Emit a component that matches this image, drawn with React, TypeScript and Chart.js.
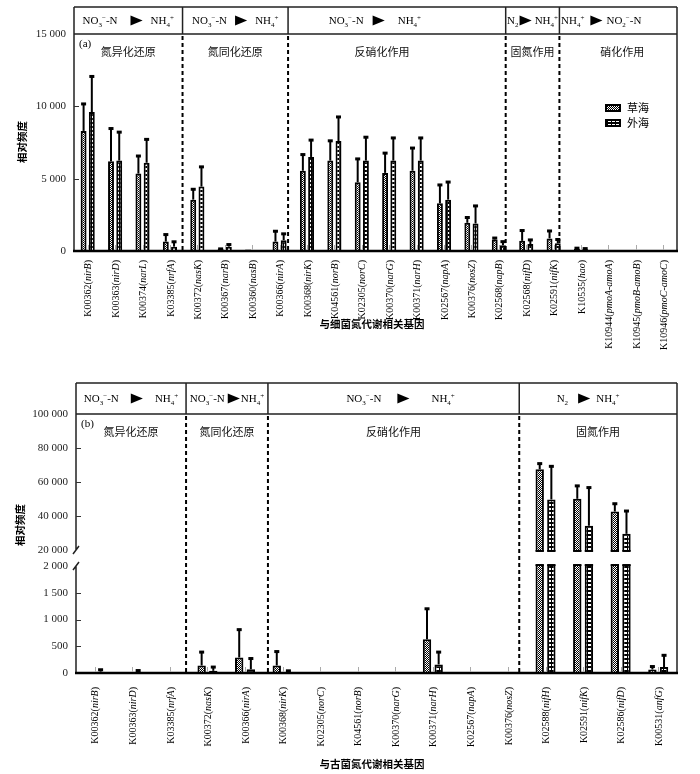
import React, { useEffect, useRef } from 'react';
import { Chart, registerables, LinearScale } from 'chart.js';

Chart.register(...registerables);

// ---------------- data ----------------
const seriesNames = ['草海', '外海'];

const topGenes = ['K00362(nirB)', 'K00363(nirD)', 'K00374(narL)', 'K03385(nrfA)', 'K00372(nasK)', 'K00367(narB)', 'K00360(nasB)', 'K00366(nirA)', 'K00368(nirK)', 'K04561(norB)', 'K02305(norC)', 'K00370(narG)', 'K00371(narH)', 'K02567(napA)', 'K00376(nosZ)', 'K02568(napB)', 'K02568(nifD)', 'K02591(nifK)', 'K10535(hao)', 'K10944(pmoA-amoA)', 'K10945(pmoB-amoB)', 'K10946(pmoC-amoC)'];
const topCaohai = [8300, 6200, 5350, 650, 3550, 150, 100, 650, 5550, 6250, 4750, 5400, 5550, 3300, 1950, 800, 700, 870, 150, 0, 0, 0];
const topCaohaiSd = [1900, 2300, 1250, 520, 750, 30, 0, 750, 1150, 1400, 1650, 1400, 1600, 1300, 400, 130, 750, 550, 80, 0, 0, 0];
const topWaihai = [9600, 6250, 6100, 300, 4450, 300, 20, 750, 6500, 7600, 6250, 6250, 6250, 3550, 1900, 400, 480, 530, 120, 0, 0, 30];
const topWaihaiSd = [2500, 2000, 1650, 370, 1400, 180, 0, 470, 1200, 1700, 1650, 1600, 1600, 1250, 1250, 280, 320, 300, 80, 0, 0, 0];
const topYTicks = [0, 5000, 10000, 15000];
const topXTitle = '与细菌氮代谢相关基因';

const botGenes = ['K00362(nirB)', 'K00363(nirD)', 'K03385(nrfA)', 'K00372(nasK)', 'K00366(nirA)', 'K00368(nirK)', 'K02305(norC)', 'K04561(norB)', 'K00370(narG)', 'K00371(narH)', 'K02567(napA)', 'K00376(nosZ)', 'K02588(nifH)', 'K02591(nifK)', 'K02586(nifD)', 'K00531(anfG)'];
const botCaohai = [15, 10, 5, 140, 290, 140, 15, 15, 20, 630, 0, 15, 67500, 50100, 42600, 65];
const botCaohaiSd = [0, 0, 0, 260, 530, 270, 0, 0, 0, 580, 0, 0, 3600, 7900, 4900, 65];
const botWaihai = [25, 15, 5, 40, 70, 10, 0, 5, 0, 160, 0, 5, 49700, 34250, 29500, 110];
const botWaihaiSd = [45, 40, 0, 80, 210, 40, 0, 0, 0, 240, 0, 0, 19800, 22750, 13700, 230];
const botYTicks = [0, 500, 1000, 1500, 2000, 20000, 40000, 60000, 80000, 100000];
const botXTitle = '与古菌氮代谢相关基因';

const yTitle = '相对频度';
const topGroups = ['氮异化还原', '氮同化还原', '反硝化作用', '固氮作用', '硝化作用'];
const botGroups = ['氮异化还原', '氮同化还原', '反硝化作用', '固氮作用'];

// ---------------- broken axis ----------------
const LOW_MAX = 2000;
const HIGH_MIN = 20000;
const LOW_FRAC = 0.413;
const HIGH_FRAC = 0.475;

class BrokenScale extends LinearScale {
  static id = 'broken';
  static defaults = LinearScale.defaults;
  getPixelForValue(value: any) {
    if (value === null || value === undefined || isNaN(value)) return NaN;
    const max = 100000;
    let f: number;
    if (value <= LOW_MAX) f = (value / LOW_MAX) * LOW_FRAC;
    else if (value >= HIGH_MIN) f = HIGH_FRAC + ((value - HIGH_MIN) / (max - HIGH_MIN)) * (1 - HIGH_FRAC);
    else f = LOW_FRAC + ((value - LOW_MAX) / (HIGH_MIN - LOW_MAX)) * (HIGH_FRAC - LOW_FRAC);
    return this.getPixelForDecimal(f);
  }
  getValueForPixel(pixel: number) {
    const f = this.getDecimalForPixel(pixel);
    if (f <= LOW_FRAC) return (f / LOW_FRAC) * LOW_MAX;
    if (f >= HIGH_FRAC) return HIGH_MIN + ((f - HIGH_FRAC) / (1 - HIGH_FRAC)) * (100000 - HIGH_MIN);
    return LOW_MAX + ((f - LOW_FRAC) / (HIGH_FRAC - LOW_FRAC)) * (HIGH_MIN - LOW_MAX);
  }
}
Chart.register(BrokenScale as any);

// ---------------- rich text helpers ----------------
type Seg = [string, string, number?];
const SERIF = '"Liberation Serif", "DejaVu Serif", serif';
const CJK = '"Noto Sans CJK SC", sans-serif';

const NO3: Seg[] = [['NO', 'n'], ['3', 'b'], ['−', 'p'], ['-N', 'n']];
const NO2: Seg[] = [['NO', 'n'], ['2', 'b'], ['−', 'p'], ['-N', 'n']];
const NH4: Seg[] = [['NH', 'n'], ['4', 'b'], ['+', 'p']];
const N2: Seg[] = [['N', 'n'], ['2', 'b']];
const g = (w: number): Seg => ['', 'g', w];
const T: Seg = ['', 't'];

function segFont(kind: string, fs: number) {
  return kind === 'b' || kind === 'p' ? `${Math.round(fs * 0.68)}px ${SERIF}` : `${fs}px ${SERIF}`;
}
function segW(ctx: CanvasRenderingContext2D, s: Seg, fs: number) {
  if (s[1] === 'g') return s[2] || 0;
  if (s[1] === 't') return fs * 1.1;
  ctx.font = segFont(s[1], fs);
  return ctx.measureText(s[0]).width;
}
function drawRich(ctx: CanvasRenderingContext2D, segs: Seg[], cx: number, cy: number, fs: number) {
  const total = segs.reduce((a, s) => a + segW(ctx, s, fs), 0);
  let x = cx - total / 2;
  ctx.textBaseline = 'alphabetic';
  ctx.textAlign = 'left';
  ctx.fillStyle = '#000';
  const base = cy + fs * 0.35;
  for (const s of segs) {
    const w = segW(ctx, s, fs);
    if (s[1] === 't') {
      ctx.beginPath();
      ctx.moveTo(x, cy - fs * 0.45);
      ctx.lineTo(x + w, cy);
      ctx.lineTo(x, cy + fs * 0.45);
      ctx.closePath();
      ctx.fill();
    } else if (s[1] !== 'g') {
      ctx.font = segFont(s[1], fs);
      const yy = s[1] === 'b' ? base + fs * 0.22 : s[1] === 'p' ? base - fs * 0.42 : base;
      ctx.fillText(s[0], x, yy);
    }
    x += w;
  }
}

function makePattern(ctx: CanvasRenderingContext2D, kind: string) {
  const c = document.createElement('canvas');
  const cx = c.getContext('2d')!;
  if (kind === 'a') {
    c.width = 2; c.height = 2;
    cx.fillStyle = '#000'; cx.fillRect(0, 0, 2, 2);
    cx.fillStyle = '#fff'; cx.fillRect(0, 0, 1, 1); cx.fillRect(1, 1, 1, 1);
  } else {
    c.width = 4; c.height = 4;
    cx.fillStyle = '#000'; cx.fillRect(0, 0, 4, 4);
    cx.fillStyle = '#fff'; cx.fillRect(0, 0, 3, 2);
  }
  return ctx.createPattern(c, 'repeat')!;
}

interface Cell { segs: Seg[]; dx: number; group: string; gdx: number; }
interface PanelSpec {
  id: string;
  letter: string;
  headerTop: number;
  groupY: number;
  cells: Cell[];
  dividers: number[];
  labels: string[];
  errs: number[][];
  labelGap: number;
  xTitle: string;
  xTitleX: number;
  xTitleY: number;
  yTitleX: number;
  yTitleY: number;
  broken: boolean;
  legend: { x: number; y: number } | null;
}

function fmt(v: number) {
  if (v >= 1000) {
    const th = Math.floor(v / 1000);
    const r = String(v % 1000).padStart(3, '0');
    return `${th} ${r}`;
  }
  return String(v);
}

const LABEL_FS = 10;

function makePlugin(spec: PanelSpec) {
  return {
    id: 'panel_' + spec.id,
    afterDatasetsDraw(chart: any) {
      const { ctx, chartArea: ca, scales } = chart;
      const y = scales.y;
      ctx.save();
      if (spec.broken) {
        const yLow = y.getPixelForValue(LOW_MAX);
        const yHigh = y.getPixelForValue(HIGH_MIN);
        ctx.fillStyle = '#fff';
        ctx.fillRect(ca.left + 1, yHigh + 1, ca.right - ca.left - 2, yLow - yHigh - 2);
        ctx.fillStyle = '#000';
        chart.data.datasets.forEach((ds: any, di: number) => {
          const meta = chart.getDatasetMeta(di);
          meta.data.forEach((el: any, i: number) => {
            if (ds.data[i] > LOW_MAX) {
              const { x, width } = el.getProps(['x', 'width'], true);
              ctx.fillRect(x - width / 2, yLow - 2, width, 2);
              ctx.fillRect(x - width / 2, yHigh, width, 2);
            }
          });
        });
      }
      // error bars
      ctx.strokeStyle = '#000';
      ctx.fillStyle = '#000';
      chart.data.datasets.forEach((ds: any, di: number) => {
        const meta = chart.getDatasetMeta(di);
        const errs = spec.errs[di];
        meta.data.forEach((el: any, i: number) => {
          const sd = errs[i];
          if (!sd) return;
          const v = ds.data[i];
          const { x, y: yb } = el.getProps(['x', 'y'], true);
          const yt = y.getPixelForValue(v + sd);
          ctx.lineWidth = 2;
          ctx.beginPath();
          ctx.moveTo(x, yb);
          ctx.lineTo(x, yt);
          ctx.stroke();
          ctx.fillRect(x - 2.5, yt - 1, 5, 3);
        });
      });
      ctx.restore();
    },
    afterDraw(chart: any) {
      const { ctx, chartArea: ca, scales } = chart;
      const xs = scales.x;
      const y = scales.y;
      ctx.save();
      const divPx = spec.dividers.map((d) => xs.getPixelForValue(d));
      const bounds = [ca.left, ...divPx, ca.right];

      // frame
      ctx.strokeStyle = '#222';
      ctx.lineWidth = 1.5;
      ctx.beginPath();
      ctx.moveTo(ca.left, spec.headerTop);
      ctx.lineTo(ca.right, spec.headerTop);
      ctx.moveTo(ca.right, spec.headerTop);
      ctx.lineTo(ca.right, ca.bottom);
      ctx.moveTo(ca.left, ca.top);
      ctx.lineTo(ca.right, ca.top);
      if (spec.broken) {
        const yLow = y.getPixelForValue(LOW_MAX);
        const yHigh = y.getPixelForValue(HIGH_MIN);
        ctx.moveTo(ca.left, spec.headerTop);
        ctx.lineTo(ca.left, yHigh);
        ctx.moveTo(ca.left, yLow);
        ctx.lineTo(ca.left, ca.bottom);
        // break slashes
        ctx.moveTo(ca.left - 3, yHigh + 4);
        ctx.lineTo(ca.left + 3, yHigh - 4);
        ctx.moveTo(ca.left - 3, yLow + 4);
        ctx.lineTo(ca.left + 3, yLow - 4);
      } else {
        ctx.moveTo(ca.left, spec.headerTop);
        ctx.lineTo(ca.left, ca.bottom);
      }
      // header separators
      divPx.forEach((px) => {
        ctx.moveTo(px, spec.headerTop);
        ctx.lineTo(px, ca.top);
      });
      ctx.stroke();

      // x axis line (thick)
      ctx.lineWidth = 2.5;
      ctx.strokeStyle = '#000';
      ctx.beginPath();
      ctx.moveTo(ca.left - 1, ca.bottom);
      ctx.lineTo(ca.right + 1, ca.bottom);
      ctx.stroke();

      // inward y ticks
      ctx.lineWidth = 1;
      ctx.strokeStyle = '#333';
      ctx.beginPath();
      y.ticks.forEach((t: any) => {
        const v = t.value;
        if (v === 0 || v === y.max) return;
        if (spec.broken && (v === LOW_MAX || v === HIGH_MIN)) return;
        const py = Math.round(y.getPixelForValue(v)) + 0.5;
        ctx.moveTo(ca.left, py);
        ctx.lineTo(ca.left + 5, py);
      });
      ctx.stroke();

      // category ticks (light)
      ctx.strokeStyle = '#aaa';
      ctx.lineWidth = 1;
      ctx.beginPath();
      spec.labels.forEach((_, i) => {
        const px = Math.round(xs.getPixelForValue(i)) + 0.5;
        ctx.moveTo(px, ca.bottom - 1);
        ctx.lineTo(px, ca.bottom - 6);
      });
      ctx.stroke();

      // dashed dividers
      ctx.strokeStyle = '#000';
      ctx.lineWidth = 2;
      ctx.setLineDash([4, 3]);
      ctx.beginPath();
      divPx.forEach((px) => {
        ctx.moveTo(px, ca.top + 2);
        ctx.lineTo(px, ca.bottom - 1);
      });
      ctx.stroke();
      ctx.setLineDash([]);

      // header texts and group labels
      const hy = (spec.headerTop + ca.top) / 2;
      spec.cells.forEach((c, k) => {
        const cx = (bounds[k] + bounds[k + 1]) / 2;
        drawRich(ctx, c.segs, cx + c.dx, hy, 11);
        ctx.font = `11px ${CJK}`;
        ctx.textAlign = 'center';
        ctx.textBaseline = 'middle';
        ctx.fillStyle = '#111';
        ctx.fillText(c.group, cx + c.gdx, spec.groupY);
      });
      // panel letter
      ctx.font = `11px ${SERIF}`;
      ctx.textAlign = 'left';
      ctx.textBaseline = 'middle';
      ctx.fillStyle = '#000';
      ctx.fillText(spec.letter, ca.left + 5, ca.top + 10);

      // x labels (code + italic gene)
      spec.labels.forEach((lab, i) => {
        const px = xs.getPixelForValue(i);
        const m = lab.match(/^(.*?\()(.*)(\))$/);
        const parts: [string, boolean][] = m ? [[m[1], false], [m[2], true], [m[3], false]] : [[lab, false]];
        const widths = parts.map(([t, it]) => {
          ctx.font = `${it ? 'italic ' : ''}${LABEL_FS}px ${SERIF}`;
          return ctx.measureText(t).width;
        });
        const total = widths.reduce((a, b) => a + b, 0);
        ctx.save();
        ctx.translate(px + 1, ca.bottom + spec.labelGap);
        ctx.rotate(-Math.PI / 2);
        ctx.textAlign = 'left';
        ctx.textBaseline = 'middle';
        ctx.fillStyle = '#000';
        let x = -total;
        parts.forEach(([t, it], k) => {
          ctx.font = `${it ? 'italic ' : ''}${LABEL_FS}px ${SERIF}`;
          ctx.fillText(t, x, 0);
          x += widths[k];
        });
        ctx.restore();
      });

      // axis titles
      ctx.font = `bold 10.5px ${CJK}`;
      ctx.textAlign = 'center';
      ctx.textBaseline = 'middle';
      ctx.fillStyle = '#000';
      ctx.fillText(spec.xTitle, spec.xTitleX, spec.xTitleY);
      ctx.save();
      ctx.translate(spec.yTitleX, spec.yTitleY);
      ctx.rotate(-Math.PI / 2);
      ctx.font = `bold 10.5px ${CJK}`;
      ctx.fillText(yTitle, 0, 0);
      ctx.restore();

      // legend
      if (spec.legend) {
        chart.data.datasets.forEach((ds: any, di: number) => {
          const lx = spec.legend!.x;
          const ly = spec.legend!.y + di * 15;
          ctx.fillStyle = '#000';
          ctx.fillRect(lx, ly, 16, 8);
          ctx.fillStyle = ds.backgroundColor;
          ctx.fillRect(lx + 2, ly + 2, 12, 4);
          ctx.fillStyle = '#000';
          ctx.font = `11px ${CJK}`;
          ctx.textAlign = 'left';
          ctx.textBaseline = 'middle';
          ctx.fillText(ds.label, lx + 22, ly + 4);
        });
      }
      ctx.restore();
    },
  };
}

function buildChart(
  canvas: HTMLCanvasElement,
  o: { labels: string[]; c: number[]; w: number[]; max: number; ticks: number[]; broken: boolean; padLeft: number; padTop: number; xH: number; spec: PanelSpec; barPct: number; catPct: number }
) {
  const ctx = canvas.getContext('2d')!;
  const patA = makePattern(ctx, 'a');
  const patB = makePattern(ctx, 'b');
  return new Chart(canvas, {
    type: 'bar',
    data: {
      labels: o.labels,
      datasets: [
        { label: seriesNames[0], data: o.c, backgroundColor: patA as any, borderColor: '#000', borderWidth: 2, borderSkipped: 'start', categoryPercentage: o.catPct, barPercentage: o.barPct },
        { label: seriesNames[1], data: o.w, backgroundColor: patB as any, borderColor: '#000', borderWidth: 2, borderSkipped: 'start', categoryPercentage: o.catPct, barPercentage: o.barPct },
      ],
    },
    options: {
      responsive: false,
      animation: false,
      devicePixelRatio: 1,
      layout: { padding: { left: o.padLeft, top: o.padTop, right: 23, bottom: 0 } },
      plugins: { legend: { display: false }, tooltip: { enabled: false } },
      scales: {
        x: {
          type: 'category',
          grid: { display: false, drawTicks: false },
          border: { display: false },
          ticks: { display: false },
          afterFit: (s: any) => { s.height = o.xH; },
        },
        y: {
          type: (o.broken ? 'broken' : 'linear') as any,
          min: 0,
          max: o.max,
          grid: { display: false, drawTicks: false },
          border: { display: false },
          ticks: {
            autoSkip: false,
            padding: 8,
            color: '#222',
            font: { family: SERIF, size: 11 },
            callback: (v: any) => fmt(Number(v)),
          },
          afterBuildTicks: (s: any) => { s.ticks = o.ticks.map((v) => ({ value: v })); },
          afterFit: (s: any) => { s.width = 66; },
        } as any,
      },
    },
    plugins: [makePlugin(o.spec) as any],
  });
}

export default function App() {
  const topRef = useRef<HTMLCanvasElement>(null);
  const botRef = useRef<HTMLCanvasElement>(null);

  useEffect(() => {
    const topSpec: PanelSpec = {
      id: 'a',
      letter: '(a)',
      headerTop: 7,
      groupY: 52,
      cells: [
        { segs: [...NO3, g(13), T, g(8), ...NH4], dx: 0, group: topGroups[0], gdx: 0 },
        { segs: [...NO3, g(8), T, g(8), ...NH4], dx: 0, group: topGroups[1], gdx: 0 },
        { segs: [...NO3, g(9), T, g(13), ...NH4], dx: -22, group: topGroups[2], gdx: -15 },
        { segs: [...N2, g(1), T, g(3), ...NH4], dx: 0, group: topGroups[3], gdx: 0 },
        { segs: [...NH4, g(6), T, g(4), ...NO2], dx: -17, group: topGroups[4], gdx: 4 },
      ],
      dividers: [3.46, 7.31, 15.25, 17.21],
      labels: topGenes,
      errs: [topCaohaiSd, topWaihaiSd],
      labelGap: 9,
      xTitle: topXTitle,
      xTitleX: 372,
      xTitleY: 324,
      yTitleX: 22,
      yTitleY: 142,
      broken: false,
      legend: { x: 605, y: 104 },
    };
    const botSpec: PanelSpec = {
      id: 'b',
      letter: '(b)',
      headerTop: 11,
      groupY: 60,
      cells: [
        { segs: [...NO3, g(12), T, g(12), ...NH4], dx: 0, group: botGroups[0], gdx: 0 },
        { segs: [...NO3, g(3), T, g(1), ...NH4], dx: 0, group: botGroups[1], gdx: 0 },
        { segs: [...NO3, g(16), T, g(22), ...NH4], dx: 7, group: botGroups[2], gdx: 0 },
        { segs: [...N2, g(10), T, g(6), ...NH4], dx: -10, group: botGroups[3], gdx: 0 },
      ],
      dividers: [2.43, 4.61, 11.3],
      labels: botGenes,
      errs: [botCaohaiSd, botWaihaiSd],
      labelGap: 14,
      xTitle: botXTitle,
      xTitleX: 372,
      xTitleY: 392,
      yTitleX: 20,
      yTitleY: 153,
      broken: true,
      legend: null,
    };
    const c1 = buildChart(topRef.current!, {
      labels: topGenes, c: topCaohai, w: topWaihai, max: 15000, ticks: topYTicks, broken: false,
      padLeft: 8, padTop: 34, xH: 121, spec: topSpec, catPct: 0.6, barPct: 0.72,
    });
    const c2 = buildChart(botRef.current!, {
      labels: botGenes, c: botCaohai, w: botWaihai, max: 100000, ticks: botYTicks, broken: true,
      padLeft: 10, padTop: 42, xH: 101, spec: botSpec, catPct: 0.62, barPct: 0.72,
    });
    return () => { c1.destroy(); c2.destroy(); };
  }, []);

  return (
    <div style={{ position: 'absolute', left: 0, top: 0, width: 700, height: 774, background: '#fff', overflow: 'hidden' }}>
      <canvas ref={topRef} width={700} height={372} style={{ position: 'absolute', left: 0, top: 0, width: 700, height: 372 }} />
      <canvas ref={botRef} width={700} height={402} style={{ position: 'absolute', left: 0, top: 372, width: 700, height: 402 }} />
    </div>
  );
}
